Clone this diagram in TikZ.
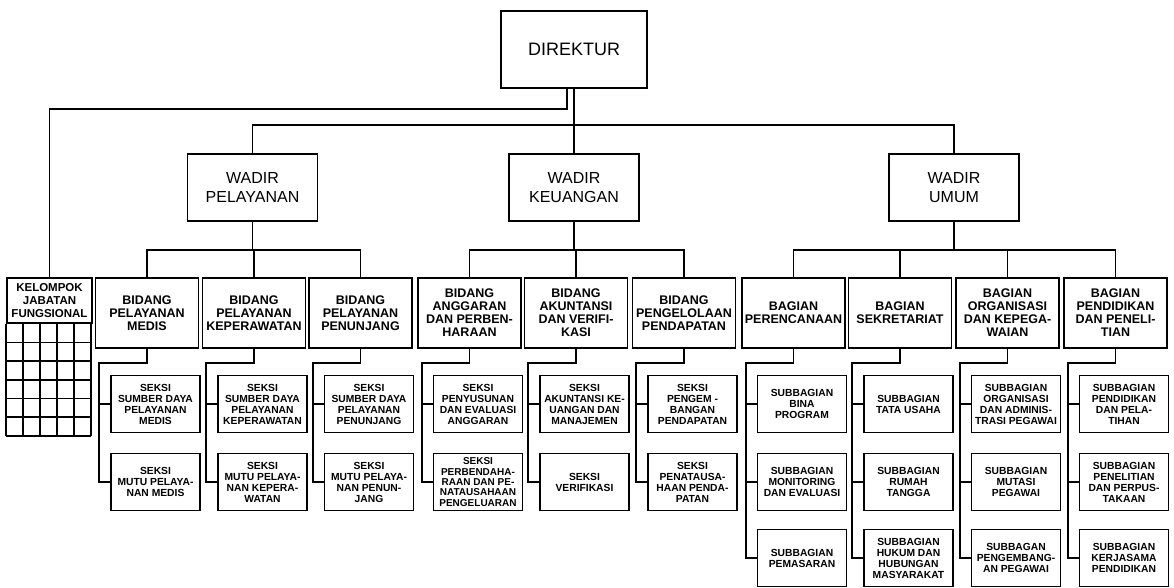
\documentclass[tikz,border=0pt]{standalone}
\usepackage{fontspec}
\setmainfont{Liberation Sans}
\usetikzlibrary{calc}

\tikzset{
  topbox/.style={draw, line width=1.8pt, minimum width=146pt, minimum height=77pt, inner sep=0pt, align=center, font=\fontsize{18}{20}\selectfont},
  wadirbox/.style={draw, line width=1.8pt, minimum width=130pt, minimum height=67pt, inner sep=0pt, align=center, font=\fontsize{16}{19}\selectfont},
  bidbox/.style={draw, line width=1.8pt, minimum width=103pt, minimum height=70pt, inner sep=0pt, align=center, font=\bfseries\fontsize{12.5}{13}\selectfont},
  subbox/.style={draw, line width=1.8pt, minimum width=89pt, minimum height=57pt, inner sep=0pt, align=center, font=\bfseries\fontsize{10.3}{11}\selectfont},
  link/.style={line width=1.8pt},
}

\begin{document}
\begin{tikzpicture}[x=1pt,y=1pt,yscale=-1,xscale=1]
\useasboundingbox (0,0) rectangle (1174,587);

% Direktur and wadir
\node[topbox] (dir) at (574,49.5) {DIREKTUR};
\node[wadirbox] (wp) at (252.5,187.5) {WADIR\\PELAYANAN};
\node[wadirbox] (wk) at (574,187.5) {WADIR\\KEUANGAN};
\node[wadirbox] (wu) at (954,187.5) {WADIR\\UMUM};

% Kelompok jabatan fungsional
\node[draw, line width=1.8pt, minimum width=85pt, minimum height=45pt, inner sep=0pt, align=center, font=\bfseries\fontsize{11.5}{13}\selectfont] (klp) at (49.5,300.5) {KELOMPOK\\JABATAN\\FUNGSIONAL};
\foreach \i in {0,...,5}
  \draw[link] ([xshift=\i*17pt]klp.south west) -- ++(0,112);
\foreach \j in {1,...,6}
  \draw[link] ([yshift=\j*18.67pt]klp.south west) -- ++(85,0);

% Bidang / bagian
\node[bidbox] (bm) at (147,313) {BIDANG\\PELAYANAN\\MEDIS};
\node[bidbox] (bk) at (254,313) {BIDANG\\PELAYANAN\\KEPERAWATAN};
\node[bidbox] (bpj) at (360.5,313) {BIDANG\\PELAYANAN\\PENUNJANG};
\node[bidbox] (ba) at (469.5,313) {BIDANG\\ANGGARAN\\DAN PERBEN-\\HARAAN};
\node[bidbox] (bv) at (576,313) {BIDANG\\AKUNTANSI\\DAN VERIFI-\\KASI};
\node[bidbox] (bpd) at (684,313) {BIDANG\\PENGELOLAAN\\PENDAPATAN};
\node[bidbox] (gr) at (793.5,313) {BAGIAN\\PERENCANAAN};
\node[bidbox] (gs) at (900,313) {BAGIAN\\SEKRETARIAT};
\node[bidbox] (go) at (1007.5,313) {BAGIAN\\ORGANISASI\\DAN KEPEGA-\\WAIAN};
\node[bidbox] (gp) at (1115.5,313) {BAGIAN\\PENDIDIKAN\\DAN PENELI-\\TIAN};

% Seksi
\node[subbox] (bm1) at (155.5,404) {SEKSI\\SUMBER DAYA\\PELAYANAN\\MEDIS};
\node[subbox] (bm2) at (155.5,482) {SEKSI\\MUTU PELAYA-\\NAN MEDIS};
\node[subbox] (bk1) at (262.5,404) {SEKSI\\SUMBER DAYA\\PELAYANAN\\KEPERAWATAN};
\node[subbox] (bk2) at (262.5,482) {SEKSI\\MUTU PELAYA-\\NAN KEPERA-\\WATAN};
\node[subbox] (bpj1) at (369,404) {SEKSI\\SUMBER DAYA\\PELAYANAN\\PENUNJANG};
\node[subbox] (bpj2) at (369,482) {SEKSI\\MUTU PELAYA-\\NAN PENUN-\\JANG};
\node[subbox] (ba1) at (478,404) {SEKSI\\PENYUSUNAN\\DAN EVALUASI\\ANGGARAN};
\node[subbox, font=\bfseries\fontsize{10}{10.4}\selectfont] (ba2) at (478,482) {SEKSI\\PERBENDAHA-\\RAAN DAN PE-\\NATAUSAHAAN\\PENGELUARAN};
\node[subbox] (bv1) at (584.5,404) {SEKSI\\AKUNTANSI KE-\\UANGAN DAN\\MANAJEMEN};
\node[subbox] (bv2) at (584.5,482) {SEKSI\\VERIFIKASI};
\node[subbox] (bpd1) at (692.5,404) {SEKSI\\PENGEM -\\BANGAN\\PENDAPATAN};
\node[subbox] (bpd2) at (692.5,482) {SEKSI\\PENATAUSA-\\HAAN PENDA-\\PATAN};

% Subbagian
\node[subbox] (gr1) at (802,404) {SUBBAGIAN\\BINA\\PROGRAM};
\node[subbox] (gr2) at (802,482) {SUBBAGIAN\\MONITORING\\DAN EVALUASI};
\node[subbox] (gr3) at (802,558) {SUBBAGIAN\\PEMASARAN};
\node[subbox] (gs1) at (908.5,404) {SUBBAGIAN\\TATA USAHA};
\node[subbox] (gs2) at (908.5,482) {SUBBAGIAN\\RUMAH\\TANGGA};
\node[subbox] (gs3) at (908.5,558) {SUBBAGIAN\\HUKUM DAN\\HUBUNGAN\\MASYARAKAT};
\node[subbox] (go1) at (1016,404) {SUBBAGIAN\\ORGANISASI\\DAN ADMINIS-\\TRASI PEGAWAI};
\node[subbox] (go2) at (1016,482) {SUBBAGIAN\\MUTASI\\PEGAWAI};
\node[subbox] (go3) at (1016,558) {SUBBAGAN\\PENGEMBANG-\\AN PEGAWAI};
\node[subbox] (gp1) at (1124,404) {SUBBAGIAN\\PENDIDIKAN\\DAN PELA-\\TIHAN};
\node[subbox] (gp2) at (1124,482) {SUBBAGIAN\\PENELITIAN\\DAN PERPUS-\\TAKAAN};
\node[subbox] (gp3) at (1124,558) {SUBBAGIAN\\KERJASAMA\\PENDIDIKAN};

% Lines from direktur
\draw[link] (dir.south) -- (wk.north);
\draw[link] (wp.north) -- ++(0,-28) -| (wu.north);
\draw[link] ([xshift=-7pt]dir.south) -- ++(0,20) -| (klp.north);

% Lines from wadir
\coordinate (wpbar) at ($(wp.south)+(0,28)$);
\coordinate (wkbar) at ($(wk.south)+(0,28)$);
\coordinate (wubar) at ($(wu.south)+(0,28)$);
\draw[link] (wp.south) -- (wpbar);
\draw[link] (wk.south) -- (wkbar);
\draw[link] (wu.south) -- (wubar);
\draw[link] (wpbar) -| (bm.north);
\draw[link] (wpbar) -| (bk.north);
\draw[link] (wpbar) -| (bpj.north);
\draw[link] (wkbar) -| (ba.north);
\draw[link] (wkbar) -| (bv.north);
\draw[link] (wkbar) -| (bpd.north);
\draw[link] (wubar) -| (gr.north);
\draw[link] (wubar) -| (gs.north);
\draw[link] (wubar) -| (go.north);
\draw[link] (wubar) -| (gp.north);

% Lines to seksi
\foreach \b in {bm,bk,bpj,ba,bv,bpd}{
  \draw[link] (\b.south) -- ++(0,14) -| ([xshift=-11pt]\b2.west) -- (\b2.west);
  \draw[link] ([xshift=-11pt]\b1.west) -- (\b1.west);
}
% Lines to subbagian
\foreach \b in {gr,gs,go,gp}{
  \draw[link] (\b.south) -- ++(0,14) -| ([xshift=-11pt]\b3.west) -- (\b3.west);
  \draw[link] ([xshift=-11pt]\b1.west) -- (\b1.west);
  \draw[link] ([xshift=-11pt]\b2.west) -- (\b2.west);
}

\end{tikzpicture}
\end{document}
